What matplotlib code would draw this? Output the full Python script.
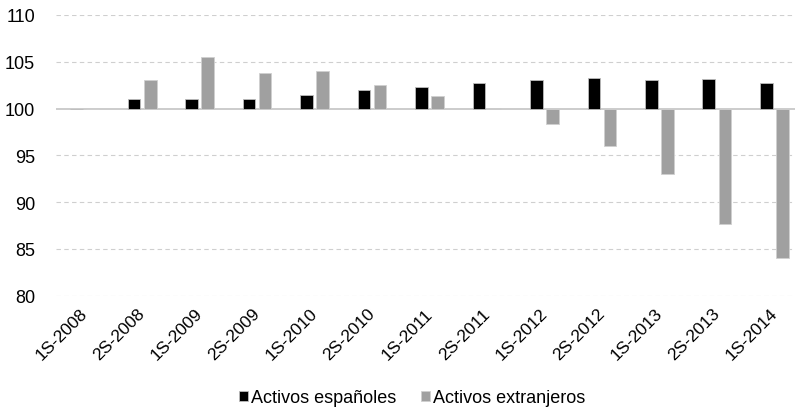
import numpy as np
import matplotlib
matplotlib.use("Agg")
import matplotlib.pyplot as plt
import matplotlib.transforms as mtransforms

# semesters and index values (base 100 = 1S-2008)
periods = ["1S-2008", "2S-2008", "1S-2009", "2S-2009", "1S-2010", "2S-2010", "1S-2011",
           "2S-2011", "1S-2012", "2S-2012", "1S-2013", "2S-2013", "1S-2014"]
espanoles = [100.0, 101.0, 101.0, 101.0, 101.4, 102.0, 102.3, 102.7, 103.1, 103.3, 103.0, 103.2, 102.7]
extranjeros = [100.0, 103.0, 105.5, 103.8, 104.0, 102.5, 101.3, 100.1, 98.4, 96.0, 93.0, 87.7, 84.0]
yticks = [80, 85, 90, 95, 100, 105, 110]

plt.rcParams['font.family'] = ['Liberation Sans', 'DejaVu Sans']

fig = plt.figure(figsize=(7.95, 4.10), dpi=100)
ax = fig.add_axes([56 / 795, 1 - 296.7 / 410, 739 / 795, (296.7 - 16) / 410])

x = np.arange(len(periods))
w = 0.22
base = 100
ax.bar(x - 0.14, np.array(espanoles) - base, w, bottom=base, color="#000000",
       edgecolor="#bdbdbd", linewidth=0.6, label="Activos españoles", zorder=3)
ax.bar(x + 0.14, np.array(extranjeros) - base, w, bottom=base, color="#a0a0a0",
       edgecolor="#d0d0d0", linewidth=0.6, label="Activos extranjeros", zorder=3)

ax.axhline(100, color="#c4c4c4", linewidth=1.2, zorder=2)
for t in yticks:
    if t != 100:
        ax.axhline(t, color="#cfcfcf", linewidth=0.8, linestyle=(0, (4, 3)), zorder=1)

ax.set_ylim(80, 110)
ax.set_xlim(-0.5, 12.36)
ax.set_yticks(yticks)
ax.set_yticklabels([str(t) for t in yticks], fontsize=13)
ax.set_xticks(x)
ax.set_xticklabels(periods, rotation=45, ha="right", rotation_mode="anchor", fontsize=12.5)
ax.tick_params(axis="both", length=0)
ax.tick_params(axis="y", pad=15)
ax.tick_params(axis="x", pad=7)
# nudge the rotated labels slightly left
shift = mtransforms.ScaledTranslation(-5 / 100, 0, fig.dpi_scale_trans)
for lbl in ax.get_xticklabels():
    lbl.set_transform(lbl.get_transform() + shift)
for s in ax.spines.values():
    s.set_visible(False)

fig.legend(loc="center", bbox_to_anchor=(412 / 795, 1 - 399 / 410), ncol=2, frameon=False,
           fontsize=13, handlelength=0.5, handleheight=0.5, handletextpad=0.15,
           columnspacing=1.4, borderpad=0.1)

fig.savefig("out.png", dpi=100)
